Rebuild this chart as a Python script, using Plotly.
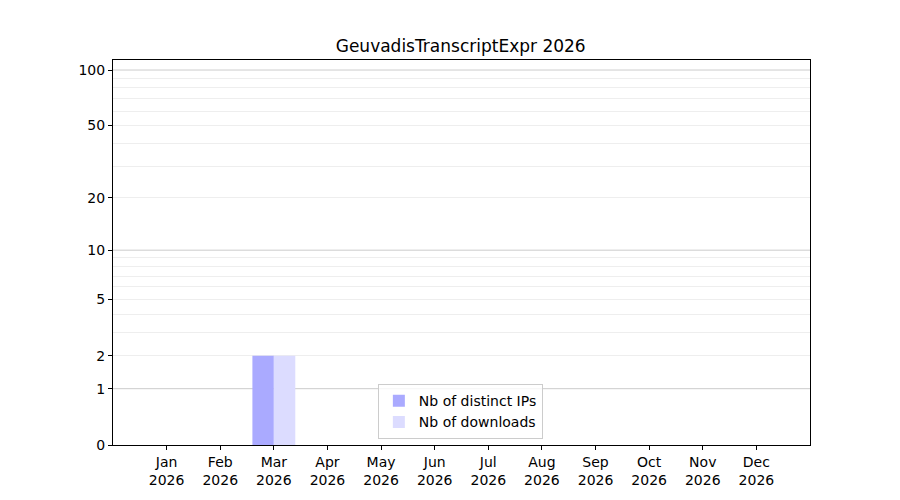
import numpy as np
import plotly.graph_objs as go

months = ['Jan', 'Feb', 'Mar', 'Apr', 'May', 'Jun', 'Jul', 'Aug', 'Sep', 'Oct', 'Nov', 'Dec']
year = 2026
distinct_ips = [0, 0, 2, 0, 0, 0, 0, 0, 0, 0, 0, 0]
downloads = [0, 0, 2, 0, 0, 0, 0, 0, 0, 0, 0, 0]

y_ticks = [0, 1, 2, 5, 10, 20, 50, 100]
y_major_grid = [1, 10, 100]
y_minor_grid = [2, 3, 4, 5, 6, 7, 8, 9, 20, 30, 40, 50, 60, 70, 80, 90]

# symlog-like scale: log10(1 + y)
def tr(v):
    return np.log10(1 + np.asarray(v, dtype=float))

labels = [f'{m}<br>{year}' for m in months]

fig = go.Figure()
fig.add_trace(go.Bar(x=labels, y=tr(distinct_ips), name='Nb of distinct IPs',
                     marker=dict(color='#aaaaff', line_width=0)))
fig.add_trace(go.Bar(x=labels, y=tr(downloads), name='Nb of downloads',
                     marker=dict(color='#dcdcff', line_width=0)))

fig.update_layout(
    width=900, height=500,
    margin=dict(l=105, r=98, t=52, b=63),
    paper_bgcolor='white', plot_bgcolor='white',
    font=dict(family='DejaVu Sans', size=14, color='black'),
    title=dict(text=f'GeuvadisTranscriptExpr {year}', x=0.503, xanchor='center',
               y=0.924, yanchor='middle', font=dict(size=17)),
    barmode='group', bargap=0.2, bargroupgap=0,
    legend=dict(x=0.38, y=0.015, xanchor='left', yanchor='bottom',
                bgcolor='rgba(255,255,255,0.8)', bordercolor='#cccccc', borderwidth=1,
                font=dict(size=14), tracegroupgap=0),
    showlegend=True,
)
fig.update_xaxes(range=[-1, 12], showline=True, linecolor='black', linewidth=1, mirror=True,
                 ticks='outside', ticklen=4, tickcolor='black', showgrid=False)
fig.update_yaxes(range=[0, 2.058], showline=True, linecolor='black', linewidth=1, mirror=True,
                 ticks='outside', ticklen=4, tickcolor='black',
                 tickvals=tr(y_ticks), ticktext=[str(t) for t in y_ticks],
                 showgrid=False, zeroline=False,
                 minor=dict(tickvals=tr(y_minor_grid), showgrid=True, gridcolor='#eeeeee',
                            gridwidth=1, ticks=''))
for v in tr(y_major_grid):
    fig.add_hline(y=v, line=dict(color='#cccccc', width=1), layer='below')

fig.write_html('out.html')
